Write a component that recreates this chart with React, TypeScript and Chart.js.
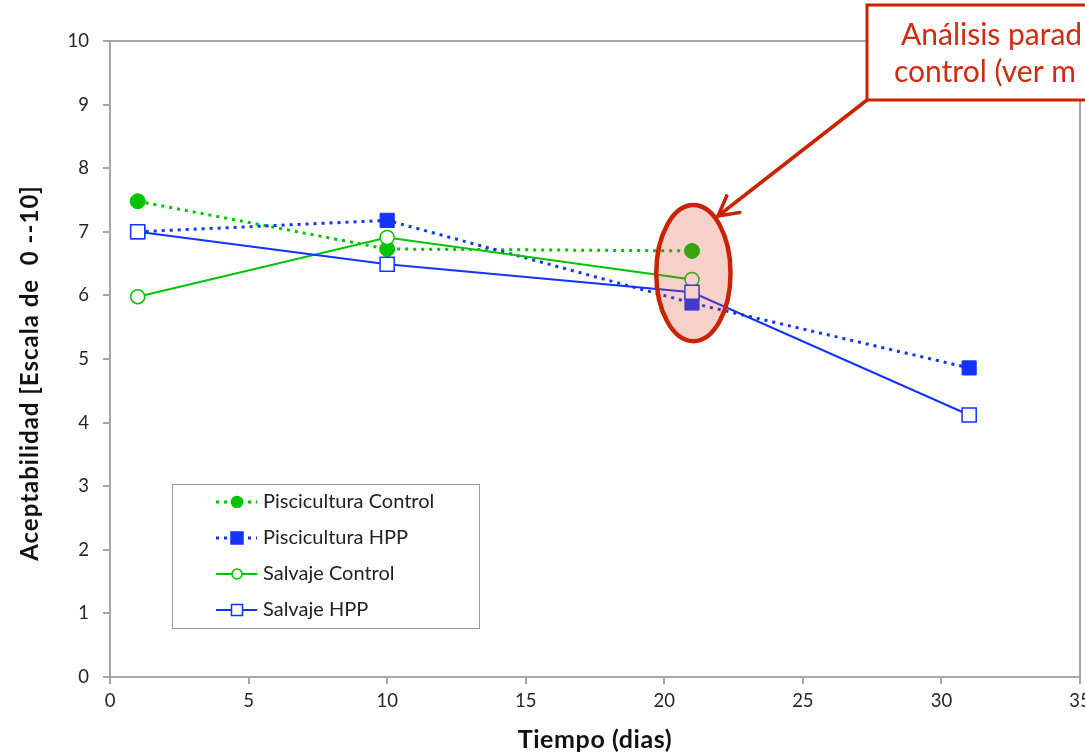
import React, { useEffect, useRef } from 'react';
import { Chart, registerables } from 'chart.js';
Chart.register(...registerables);

const daysShort = [1, 10, 21];
const daysLong = [1, 10, 21, 31];
const pisciControl = [7.48, 6.73, 6.7];
const pisciHPP = [7.0, 7.18, 5.88, 4.86];
const salvajeControl = [5.98, 6.91, 6.25];
const salvajeHPP = [7.0, 6.49, 6.05, 4.12];
const seriesNames = ['Piscicultura Control', 'Piscicultura HPP', 'Salvaje Control', 'Salvaje HPP'];
const xTitle = 'Tiempo (dias)';
const yTitle = 'Aceptabilidad [Escala de  0 --10]';
const noteLines = ['Análisis parad', 'control (ver m'];
// highlighted region (data units): center x, center y, radius x, radius y
const highlight = [21.05, 6.35, 1.34, 1.07];

const GREEN = '#00c400';
const BLUE = '#1433ff';
const RED = '#cc2200';
const AXIS = '#a6a6a6';
const FONT = 'Lato, "Open Sans", sans-serif';

const toPts = (xs: number[], ys: number[]) => xs.map((x, i) => ({ x, y: ys[i] }));

function drawMarker(ctx: CanvasRenderingContext2D, kind: string, x: number, y: number, s: number, color: string) {
  ctx.save();
  ctx.lineWidth = 1.5;
  ctx.strokeStyle = color;
  ctx.fillStyle = kind.startsWith('filled') ? color : '#fff';
  ctx.beginPath();
  if (kind.endsWith('circle')) ctx.arc(x, y, s / 2, 0, Math.PI * 2);
  else ctx.rect(x - s / 2, y - s / 2, s, s);
  ctx.fill();
  ctx.stroke();
  ctx.restore();
}

const decorPlugin = {
  id: 'decor',
  beforeDraw(chart: any) {
    const { ctx, width, height } = chart;
    ctx.save();
    ctx.fillStyle = '#fff';
    ctx.fillRect(0, 0, width, height);
    ctx.restore();
  },
  afterDatasetsDraw(chart: any) {
    const { ctx, chartArea: a, scales } = chart;
    const xs = scales.x, ys = scales.y;
    ctx.save();
    // plot border top / right
    ctx.strokeStyle = AXIS;
    ctx.lineWidth = 2;
    ctx.beginPath();
    ctx.moveTo(a.left, a.top);
    ctx.lineTo(a.right, a.top);
    ctx.lineTo(a.right, a.bottom);
    ctx.stroke();

    // ellipse highlight
    const cx = xs.getPixelForValue(highlight[0]);
    const cy = ys.getPixelForValue(highlight[1]);
    const rx = Math.abs(xs.getPixelForValue(highlight[0] + highlight[2]) - cx);
    const ry = Math.abs(ys.getPixelForValue(highlight[1] + highlight[3]) - cy);
    ctx.beginPath();
    ctx.ellipse(cx, cy, rx, ry, 0, 0, Math.PI * 2);
    ctx.fillStyle = 'rgba(215, 70, 40, 0.25)';
    ctx.fill();
    ctx.lineWidth = 4.5;
    ctx.strokeStyle = RED;
    ctx.stroke();

    // note box
    const bx = 867, by = 5, bw = 260, bh = 95;
    ctx.fillStyle = '#fff';
    ctx.fillRect(bx, by, bw, bh);
    ctx.lineWidth = 3;
    ctx.strokeStyle = RED;
    ctx.strokeRect(bx, by, bw, bh);
    ctx.fillStyle = '#d42a12';
    ctx.font = `30px ${FONT}`;
    ctx.textBaseline = 'alphabetic';
    ctx.textAlign = 'left';
    ctx.fillText(noteLines[0], 901, 45);
    ctx.fillText(noteLines[1], 894, 82);

    // arrow from box corner to ellipse
    const tx = 718, ty = 216;
    const sx = bx, sy = by + bh;
    ctx.strokeStyle = RED;
    ctx.lineWidth = 3.5;
    ctx.lineCap = 'round';
    ctx.beginPath();
    ctx.moveTo(sx, sy);
    ctx.lineTo(tx, ty);
    ctx.stroke();
    const ang = Math.atan2(sy - ty, sx - tx);
    const hl = 22, spread = 0.5;
    ctx.beginPath();
    ctx.moveTo(tx + hl * Math.cos(ang - spread), ty + hl * Math.sin(ang - spread));
    ctx.lineTo(tx, ty);
    ctx.lineTo(tx + hl * Math.cos(ang + spread), ty + hl * Math.sin(ang + spread));
    ctx.stroke();

    // legend
    const lx = 172, ly = 484, lw = 307, lh = 144;
    ctx.fillStyle = '#fff';
    ctx.fillRect(lx, ly, lw, lh);
    ctx.lineWidth = 1;
    ctx.strokeStyle = '#9a9a9a';
    ctx.strokeRect(lx + 0.5, ly + 0.5, lw, lh);
    const rows = [502, 538, 574, 610];
    const styles = [
      { c: GREEN, dash: true, m: 'filledcircle', s: 11 },
      { c: BLUE, dash: true, m: 'filledrect', s: 12 },
      { c: GREEN, dash: false, m: 'hollowcircle', s: 10 },
      { c: BLUE, dash: false, m: 'hollowrect', s: 11 },
    ];
    rows.forEach((ry2, i) => {
      const st = styles[i];
      ctx.save();
      ctx.strokeStyle = st.c;
      ctx.lineWidth = st.dash ? 3 : 2;
      ctx.setLineDash(st.dash ? [3, 5] : []);
      ctx.lineCap = 'butt';
      ctx.beginPath();
      ctx.moveTo(216, ry2);
      ctx.lineTo(257, ry2);
      ctx.stroke();
      ctx.restore();
      drawMarker(ctx, st.m, 237, ry2, st.s, st.c);
      ctx.fillStyle = '#222';
      ctx.font = `20px ${FONT}`;
      ctx.textBaseline = 'middle';
      ctx.textAlign = 'left';
      ctx.fillText(seriesNames[i], 263, ry2);
    });

    // axis titles
    ctx.fillStyle = '#111';
    ctx.textAlign = 'center';
    ctx.textBaseline = 'alphabetic';
    (ctx as any).letterSpacing = '0.6px';
    ctx.font = `bold 25px ${FONT}`;
    ctx.fillText(xTitle, (a.left + a.right) / 2, 748);
    (ctx as any).letterSpacing = '1px';
    ctx.font = `bold 24px ${FONT}`;
    ctx.save();
    ctx.translate(38, 373);
    ctx.rotate(-Math.PI / 2);
    ctx.fillText(yTitle, 0, 0);
    ctx.restore();
    (ctx as any).letterSpacing = '0px';
    ctx.restore();
  },
};

export default function App() {
  const ref = useRef<HTMLCanvasElement>(null);
  useEffect(() => {
    document.body.style.margin = '0';
    const canvas = ref.current!;
    const chart = new Chart(canvas, {
      type: 'line',
      data: {
        datasets: [
          {
            label: seriesNames[0], data: toPts(daysShort, pisciControl), order: 3,
            borderColor: GREEN, backgroundColor: GREEN, borderWidth: 3, borderDash: [3, 5],
            pointStyle: 'circle', pointRadius: 7.5, pointBackgroundColor: GREEN, pointBorderColor: GREEN, pointBorderWidth: 1,
          },
          {
            label: seriesNames[1], data: toPts(daysLong, pisciHPP), order: 2,
            borderColor: BLUE, backgroundColor: BLUE, borderWidth: 3, borderDash: [3, 5],
            pointStyle: 'rect', pointRadius: 10, pointBackgroundColor: BLUE, pointBorderColor: BLUE, pointBorderWidth: 1,
          },
          {
            label: seriesNames[2], data: toPts(daysShort, salvajeControl), order: 1,
            borderColor: GREEN, backgroundColor: '#fff', borderWidth: 2,
            pointStyle: 'circle', pointRadius: 7, pointBackgroundColor: '#fff', pointBorderColor: GREEN, pointBorderWidth: 1.5,
          },
          {
            label: seriesNames[3], data: toPts(daysLong, salvajeHPP), order: 0,
            borderColor: BLUE, backgroundColor: '#fff', borderWidth: 2,
            pointStyle: 'rect', pointRadius: 10, pointBackgroundColor: '#fff', pointBorderColor: BLUE, pointBorderWidth: 1.5,
          },
        ],
      },
      options: {
        responsive: false,
        animation: false,
        layout: { autoPadding: false, padding: { top: 41, right: 5, left: 0, bottom: 0 } },
        plugins: { legend: { display: false }, tooltip: { enabled: false }, title: { display: false } },
        scales: {
          x: {
            type: 'linear', min: 0, max: 35,
            ticks: { stepSize: 5, color: '#262626', font: { family: FONT, size: 18.5 }, padding: 6, maxRotation: 0 },
            grid: { drawOnChartArea: false, drawTicks: true, tickLength: 7, color: AXIS, lineWidth: 2 },
            border: { color: AXIS, width: 2 },
            afterFit: (s: any) => { s.height = 78; s.paddingLeft = 0; s.paddingRight = 0; },
          },
          y: {
            min: 0, max: 10,
            ticks: { stepSize: 1, color: '#262626', font: { family: FONT, size: 18.5 }, padding: 14 },
            grid: { drawOnChartArea: false, drawTicks: true, tickLength: 7, color: AXIS, lineWidth: 2 },
            border: { color: AXIS, width: 2 },
            afterFit: (s: any) => { s.width = 110; s.paddingTop = 0; s.paddingBottom = 0; },
          },
        },
      },
      plugins: [decorPlugin],
    } as any);
    return () => chart.destroy();
  }, []);
  return (
    <div style={{ width: 1085, height: 755 }}>
      <canvas ref={ref} width={1085} height={755} />
    </div>
  );
}
